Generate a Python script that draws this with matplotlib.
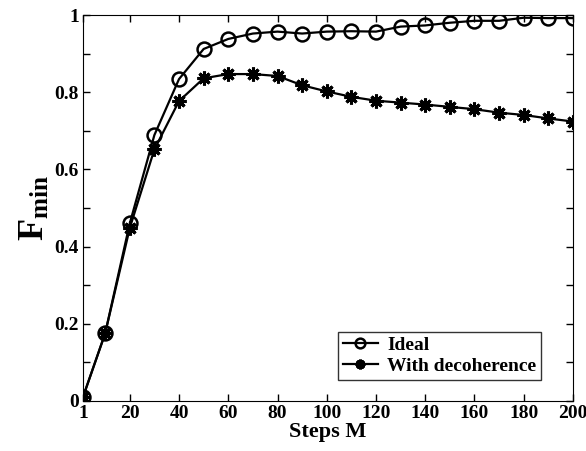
import matplotlib
matplotlib.use('Agg')
import matplotlib.pyplot as plt
from matplotlib.ticker import MultipleLocator, FuncFormatter, FixedLocator

plt.rcParams['font.family'] = 'Liberation Serif'
plt.rcParams['font.weight'] = 'bold'
plt.rcParams['mathtext.fontset'] = 'custom'
plt.rcParams['mathtext.rm'] = 'Liberation Serif:bold'
plt.rcParams['mathtext.bf'] = 'Liberation Serif:bold'

# data
steps = [1, 10, 20, 30, 40, 50, 60, 70, 80, 90, 100, 110, 120, 130, 140,
         150, 160, 170, 180, 190, 200]
ideal = [0.01, 0.175, 0.46, 0.689, 0.834, 0.912, 0.938, 0.952, 0.957, 0.952,
         0.957, 0.958, 0.957, 0.970, 0.973, 0.980, 0.985, 0.985, 0.993, 0.992, 0.992]
decoh = [0.01, 0.175, 0.448, 0.652, 0.777, 0.836, 0.847, 0.847, 0.842, 0.818,
         0.802, 0.788, 0.778, 0.773, 0.768, 0.762, 0.756, 0.747, 0.741, 0.732, 0.724]
xticks = [1, 20, 40, 60, 80, 100, 120, 140, 160, 180, 200]

fig = plt.figure(figsize=(5.86, 4.51), dpi=100)
ax = fig.add_axes([0.1416, 0.1109, 0.8362, 0.8558])

ax.plot(steps, ideal, '-o', color='k', lw=1.6, markersize=10,
        markerfacecolor='none', markeredgewidth=1.8, label='Ideal')
# matlab style asterisk (8 spokes)
ax.plot(steps, decoh, '-', marker=(8, 2, 0), color='k', lw=1.6, markersize=10,
        markeredgewidth=2.2, label='With decoherence')

ax.set_xlim(1, 200)
ax.set_ylim(0, 1)
ax.xaxis.set_major_locator(FixedLocator(xticks))
ax.yaxis.set_major_locator(MultipleLocator(0.1))

def yfmt(v, pos):
    k = int(round(v * 10))
    if k % 2:
        return ''
    if k == 0:
        return '0'
    if k == 10:
        return '1'
    return '%.1f' % v

ax.yaxis.set_major_formatter(FuncFormatter(yfmt))
ax.tick_params(direction='in', top=True, right=True, length=5, width=1,
               labelsize=14, pad=3)
for lab in ax.get_xticklabels() + ax.get_yticklabels():
    lab.set_fontweight('bold')

ax.set_xlabel('Steps M', fontsize=16, fontweight='bold', labelpad=0)
ax.set_ylabel(r'$\mathbf{F_{min}}$', fontsize=26, labelpad=2)

leg = ax.legend(loc='lower right', bbox_to_anchor=(0.955, 0.03), fontsize=14,
                frameon=True, fancybox=False, edgecolor='k', markerscale=0.7,
                handlelength=1.8, borderpad=0.25, labelspacing=0.15,
                handletextpad=0.5)
leg.get_frame().set_linewidth(1.0)
for t in leg.get_texts():
    t.set_fontweight('bold')

fig.savefig('out.png', dpi=100)
